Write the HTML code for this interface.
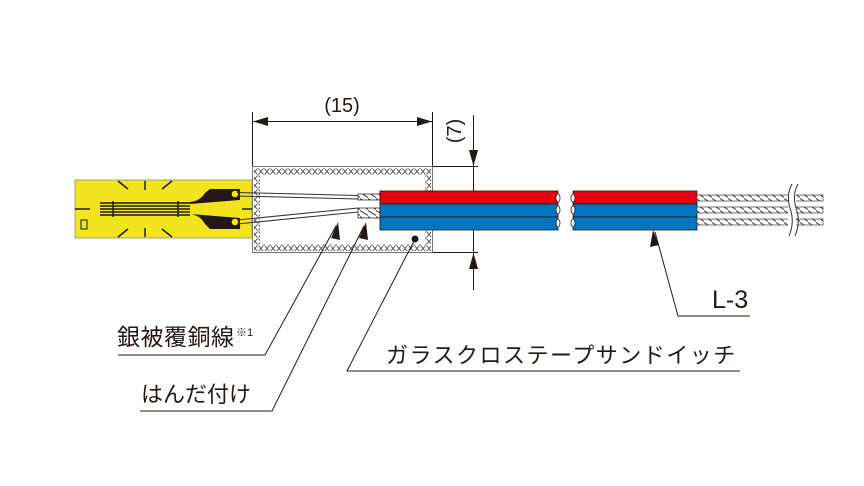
<!DOCTYPE html>
<html><head><meta charset="utf-8"><style>
html,body{margin:0;padding:0;background:#fff;}
svg{display:block;}
text{font-family:"Liberation Sans","Noto Sans CJK JP",sans-serif;fill:#231815;}
</style></head><body>
<svg width="864" height="486" viewBox="0 0 864 486" xmlns="http://www.w3.org/2000/svg">
<defs>
<pattern id="tw" width="8" height="6" patternUnits="userSpaceOnUse">
<rect width="8" height="6" fill="#fff"/>
<line x1="0" y1="0.5" x2="8" y2="5.5" stroke="#333" stroke-width="1"/>
</pattern>
<pattern id="xx" width="6" height="7" patternUnits="userSpaceOnUse">
<path d="M0.5 0.5 L5.5 6.5 M5.5 0.5 L0.5 6.5" stroke="#444" stroke-width="0.9" fill="none"/>
</pattern>
</defs>
<g stroke="#231815" stroke-width="1" fill="none">
<line x1="252.5" y1="112" x2="252.5" y2="166"/>
<line x1="432.5" y1="112" x2="432.5" y2="166"/>
<line x1="252" y1="121.5" x2="432" y2="121.5"/>
<line x1="432" y1="166.5" x2="478" y2="166.5"/>
<line x1="432" y1="252.5" x2="478" y2="252.5"/>
<line x1="473.5" y1="115" x2="473.5" y2="290"/>
</g>
<path d="M253 121.5 L268 117 L268 126 Z M432 121.5 L417 117 L417 126 Z" fill="#231815"/>
<path d="M473.5 166 L469 150 L478 150 Z M473.5 253 L469 269 L478 269 Z" fill="#231815"/>
<text x="342" y="112" font-size="20" text-anchor="middle">(15)</text>
<text transform="translate(461,131) rotate(-90)" font-size="20" text-anchor="middle">(7)</text>
<rect x="252.5" y="166.5" width="180" height="86" fill="#fff" stroke="#777" stroke-width="1"/>
<rect x="254" y="168" width="177" height="7" fill="url(#xx)"/>
<rect x="254" y="244" width="177" height="7" fill="url(#xx)"/>
<rect x="254" y="175" width="6" height="69" fill="url(#xx)"/>
<rect x="425" y="175" width="6" height="69" fill="url(#xx)"/>
<rect x="75" y="180" width="177" height="58" fill="#f2e51d" stroke="#888" stroke-width="0.8"/>
<g stroke="#231815" stroke-width="1.5" fill="none">
<line x1="118" y1="181" x2="128" y2="189"/><line x1="145" y1="181" x2="145" y2="190"/><line x1="172" y1="181" x2="162" y2="189"/>
<line x1="118" y1="237" x2="128" y2="229"/><line x1="145" y1="237" x2="145" y2="228"/><line x1="172" y1="237" x2="162" y2="229"/>
<line x1="75" y1="209" x2="90" y2="209"/><line x1="242" y1="209" x2="252" y2="209"/>
<line x1="100" y1="203" x2="190" y2="203"/><line x1="100" y1="206" x2="190" y2="206"/><line x1="100" y1="209" x2="190" y2="209"/><line x1="100" y1="212" x2="190" y2="212"/><line x1="100" y1="215" x2="190" y2="215"/>
<line x1="113" y1="201" x2="113" y2="217"/><line x1="178" y1="201" x2="178" y2="217"/>
</g>
<path d="M190 202 Q200 201 205 193 L210 189 L240 189 L240 200 L190 204 Z" fill="#231815"/>
<path d="M190 214 Q200 215 205 224 L210 229 L240 229 L240 218 L190 214 Z" fill="#231815"/>
<circle cx="235" cy="194" r="3.3" fill="#f2e51d"/>
<circle cx="235" cy="222" r="3.3" fill="#f2e51d"/>
<rect x="81" y="220" width="6" height="9" fill="none" stroke="#231815" stroke-width="1"/>
<path d="M237 192.5 L358 195.5 M237 196 L358 199" stroke="#333" stroke-width="1"/>
<path d="M237 220 L358 208 M237 224 L358 212" stroke="#333" stroke-width="1"/>
<rect x="358" y="194" width="22" height="6" fill="url(#tw)" stroke="#333" stroke-width="0.8"/>
<rect x="358" y="208" width="22" height="10" fill="url(#tw)" stroke="#333" stroke-width="0.8"/>
<g stroke="#231815" stroke-width="0.8">
<rect x="380" y="191" width="178" height="13" fill="#e50012"/>
<rect x="380" y="204" width="178" height="13" fill="#0075c2"/>
<rect x="380" y="217" width="178" height="13" fill="#0075c2"/>
<rect x="573" y="191" width="124" height="13" fill="#e50012"/>
<rect x="573" y="204" width="124" height="13" fill="#0075c2"/>
<rect x="573" y="217" width="124" height="13" fill="#0075c2"/>
</g>
<g fill="#fff" stroke="#231815" stroke-width="0.8">
<ellipse cx="558" cy="198" rx="2" ry="4"/><ellipse cx="558" cy="210" rx="2" ry="4"/><ellipse cx="558" cy="223" rx="2" ry="4"/>
<ellipse cx="573" cy="198" rx="2" ry="4"/><ellipse cx="573" cy="210" rx="2" ry="4"/><ellipse cx="573" cy="223" rx="2" ry="4"/>
</g>
<circle cx="415" cy="239" r="3.5" fill="#231815"/>
<g stroke="#555" stroke-width="0.8">
<rect x="697" y="195" width="126" height="6" fill="url(#tw)"/>
<rect x="697" y="207" width="126" height="6" fill="url(#tw)"/>
<rect x="697" y="219" width="126" height="6" fill="url(#tw)"/>
</g>
<rect x="788" y="185" width="8" height="50" fill="#fff"/>
<path d="M792 184 Q786 195 790 208 Q795 222 789 236 M798 184 Q792 195 796 208 Q801 222 795 236" stroke="#333" stroke-width="1" fill="none"/>
<g stroke="#231815" stroke-width="1" fill="none">
<polyline points="118,355 265,355 336,226"/>
<polyline points="140,411 272,411 364,226"/>
<polyline points="740,371 347,371 415,239"/>
<polyline points="750,316 678,316 655,232"/>
</g>
<path d="M338 222 L331 238 L340 240 Z" fill="#231815"/>
<path d="M366 222 L359 238 L368 240 Z" fill="#231815"/>
<path d="M653 230 L650 247 L659 245 Z" fill="#231815"/>
<text x="117" y="345" font-size="23" letter-spacing="0.5">銀被覆銅線</text>
<text x="236" y="336" font-size="11">※1</text>
<text x="141" y="402" font-size="22">はんだ付け</text>
<text x="386" y="363" font-size="22" letter-spacing="1.5">ガラスクロステープサンドイッチ</text>
<text x="712" y="308" font-size="25">L-3</text>
</svg>
</body></html>
